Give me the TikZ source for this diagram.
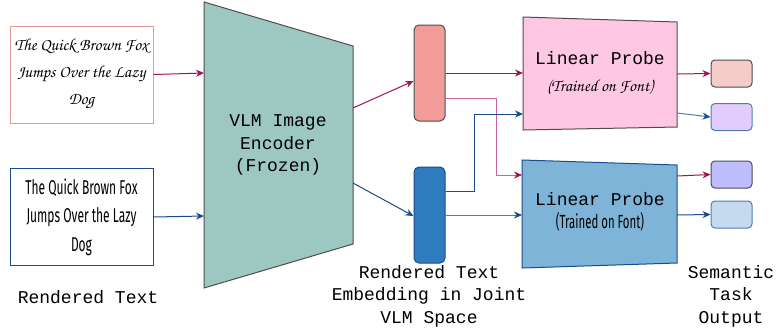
\documentclass[tikz,border=0pt]{standalone}
\usepackage[T1]{fontenc}
\usepackage{fontspec}
\setmonofont{Liberation Mono}
\newfontfamily\handfont{Fira Sans}[FakeStretch=0.6]
\newcommand\chancery{\fontencoding{T1}\fontfamily{pzc}\fontseries{mb}\fontshape{it}\selectfont}
\newcommand\monolbl{\ttfamily\fontsize{18}{22.5}\selectfont}
\usepackage{xcolor}
\usetikzlibrary{arrows.meta,positioning,calc}
\definecolor{magarr}{HTML}{A3105C}
\definecolor{magsoft}{HTML}{C8649E}
\definecolor{bluearr}{HTML}{1A4B8C}
\definecolor{bluesoft}{HTML}{4F7DB3}
\definecolor{encfill}{HTML}{9DC8C1}
\definecolor{pinkline}{HTML}{E39A9A}
\definecolor{pembfill}{HTML}{F19C99}
\definecolor{bembfill}{HTML}{2E7BBD}
\definecolor{pprobe}{HTML}{FEC8E4}
\definecolor{bprobe}{HTML}{7EB4D8}
\definecolor{outa}{HTML}{F6CCCB}
\definecolor{outb}{HTML}{E1CCFD}
\definecolor{outc}{HTML}{BEBDFD}
\definecolor{outd}{HTML}{C4DAEE}
\definecolor{edge}{HTML}{4D4D4D}
\tikzset{
  txtbox/.style={draw=#1, line width=1pt, fill=white, minimum width=143pt, minimum height=97pt, inner sep=0pt, align=center},
  emb/.style={draw=#1, line width=1pt, rounded corners=5pt, minimum width=31pt, minimum height=96pt, inner sep=0pt},
  outbox/.style={draw=#1, line width=1pt, rounded corners=4pt, minimum width=41pt, minimum height=27pt, inner sep=0pt},
  arr/.style={-{Stealth[length=8pt,width=7pt]}, line width=1pt, draw=#1},
  lbl/.style={font=\monolbl, align=center, inner sep=0pt},
}

\begin{document}
\begin{tikzpicture}[x=1pt, y=-1pt]
  \useasboundingbox (0,0) rectangle (778,333);
  % input renderings
  \node[txtbox=pinkline, font=\chancery\fontsize{17}{27}\selectfont] (img1) at (81.5,74.5)
    {The Quick Brown Fox\\Jumps Over the Lazy\\Dog};
  \node[txtbox=bluearr, font=\handfont\fontsize{20}{28.5}\selectfont] (img2) at (81.5,217)
    {The Quick Brown Fox\\Jumps Over the Lazy\\Dog};
  % encoder
  \coordinate (enc-tl) at (204,2);   \coordinate (enc-tr) at (353,46);
  \coordinate (enc-br) at (353,244); \coordinate (enc-bl) at (204,288);
  \draw[fill=encfill, draw=edge, line width=1pt] (enc-tl) -- (enc-tr) -- (enc-br) -- (enc-bl) -- cycle;
  \node[lbl] (enc) at (278,145) {VLM Image\\Encoder\\(Frozen)};
  \coordinate (enc-in1) at (204,73);  \coordinate (enc-in2) at (204,216);
  \coordinate (enc-out1) at (353,108); \coordinate (enc-out2) at (353,183);
  % embeddings
  \node[emb=edge, fill=pembfill] (pemb) at (429.5,73) {};
  \node[emb=bluearr, fill=bembfill] (bemb) at (429.5,215) {};
  % probes
  \draw[fill=pprobe, draw=edge, line width=1pt] (523,17) -- (677,22) -- (677,127) -- (523,130) -- cycle;
  \draw[fill=bprobe, draw=bluearr, line width=1pt] (522,160) -- (677,165) -- (677,263) -- (522,268) -- cycle;
  \node[lbl] (probe1) at (600,58) {Linear Probe};
  \node[inner sep=0pt, font=\chancery\fontsize{17}{18}\selectfont] (sub1) at (600,87) {(Trained on Font)};
  \node[lbl] (probe2) at (600,199) {Linear Probe};
  \node[inner sep=0pt, font=\handfont\fontsize{19}{20}\selectfont] (sub2) at (600,222) {(Trained on Font)};
  \coordinate (p1-in1) at (523,73);  \coordinate (p1-in2) at (523,114);
  \coordinate (p2-in1) at (522,175); \coordinate (p2-in2) at (522,215);
  \coordinate (p1-out1) at (677,74);  \coordinate (p1-out2) at (677,113);
  \coordinate (p2-out1) at (677,176); \coordinate (p2-out2) at (677,215);
  % outputs
  \node[outbox=edge, fill=outa] (out1) at (731.5,73.5) {};
  \node[outbox=bluesoft, fill=outb] (out2) at (731.5,117) {};
  \node[outbox=edge, fill=outc] (out3) at (731.5,174.5) {};
  \node[outbox=bluesoft, fill=outd] (out4) at (731.5,214.5) {};
  % connectors
  \draw[arr=magarr] (img1.east) -- (enc-in1);
  \draw[arr=bluearr] (img2.east) -- (enc-in2);
  \draw[arr=magarr] (enc-out1) -- (pemb.west |- 0,81);
  \draw[arr=bluearr] (enc-out2) -- (bemb.west |- 0,216);
  \draw[arr=magarr] (pemb.east) -- (p1-in1);
  \draw[arr=magsoft, -{Stealth[length=8pt,width=7pt,magarr]}] ([yshift=-25pt]pemb.east) -| (496,175) -- (p2-in1);
  \draw[arr=bluearr] ([yshift=24pt]bemb.east) -| (474,114) -- (p1-in2);
  \draw[arr=bluesoft, -{Stealth[length=8pt,width=7pt,bluearr]}] (bemb.east) -- (p2-in2);
  \draw[arr=magarr] (p1-out1) -- (out1.west);
  \draw[arr=bluesoft, -{Stealth[length=8pt,width=7pt,bluearr]}] (p1-out2) -- (out2.west);
  \draw[arr=magarr] (p2-out1) -- (out3.west);
  \draw[arr=bluearr] (p2-out2) -- (out4.west);
  % captions
  \node[lbl] (cap1) at (88,297) {Rendered Text};
  \node[lbl, anchor=north] (cap2) at (429,265) {Rendered Text\\Embedding in Joint\\VLM Space};
  \node[lbl, anchor=north] (cap3) at (731,265) {Semantic\\Task\\Output};
\end{tikzpicture}
\end{document}
